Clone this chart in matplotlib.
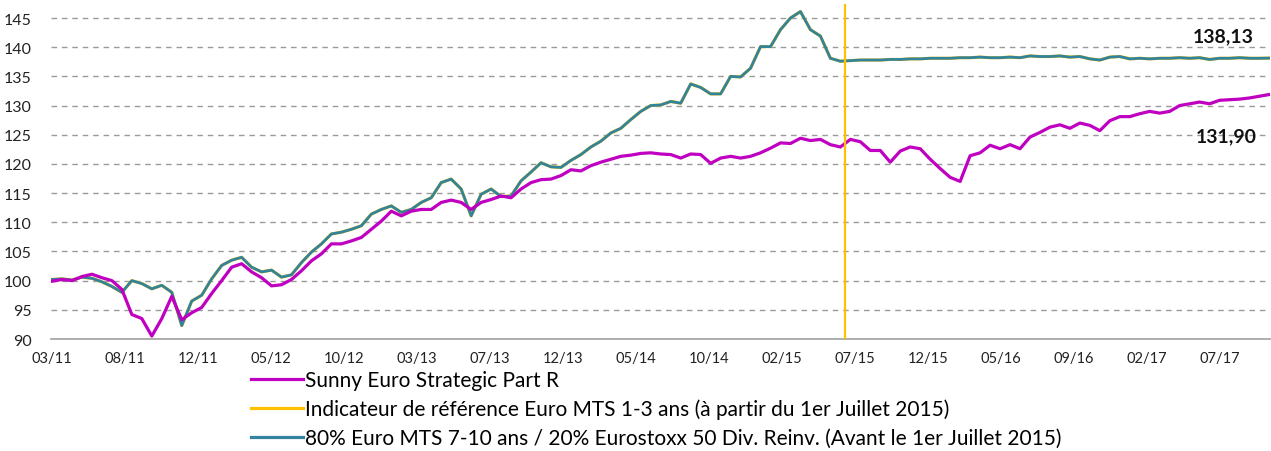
import matplotlib
matplotlib.use("Agg")
import matplotlib.pyplot as plt
from matplotlib.lines import Line2D
import pandas as pd

# Series values (base 100), sampled about every 20 days from March 2011 to October 2017
fund_values = [
    99.9, 100.2, 100.0, 100.7, 101.1, 100.5, 100.0, 98.5, 94.2, 93.5,
    90.5, 93.5, 97.3, 93.3, 94.5, 95.4, 97.8, 100.0, 102.3, 102.9,
    101.5, 100.5, 99.1, 99.3, 100.2, 101.7, 103.4, 104.6, 106.3, 106.3,
    106.8, 107.4, 108.8, 110.2, 111.9, 111.1, 111.9, 112.2, 112.2, 113.4,
    113.8, 113.4, 112.2, 113.4, 113.9, 114.5, 114.2, 115.7, 116.8, 117.3,
    117.4, 118.0, 119.0, 118.8, 119.7, 120.3, 120.8, 121.3, 121.5, 121.8,
    121.9, 121.7, 121.6, 121.0, 121.7, 121.6, 120.1, 121.0, 121.3, 121.0,
    121.3, 121.9, 122.7, 123.6, 123.5, 124.4, 124.0, 124.2, 123.3, 122.9,
    124.2, 123.8, 122.3, 122.3, 120.3, 122.2, 122.9, 122.6, 120.8, 119.2,
    117.7, 117.0, 121.4, 121.9, 123.2, 122.6, 123.3, 122.6, 124.6, 125.4,
    126.3, 126.7, 126.1, 127.0, 126.6, 125.7, 127.4, 128.1, 128.1, 128.6,
    129.0, 128.7, 129.0, 130.0, 130.3, 130.6, 130.3, 130.9, 131.0, 131.1,
    131.3, 131.6, 131.90,
]

benchmark_values = [
    100.2, 100.3, 100.1, 100.6, 100.4, 99.8, 99.0, 98.0, 100.0, 99.5,
    98.6, 99.2, 98.0, 92.3, 96.5, 97.5, 100.3, 102.6, 103.5, 104.0,
    102.3, 101.5, 101.8, 100.6, 101.0, 103.1, 104.9, 106.3, 108.0, 108.3,
    108.8, 109.4, 111.4, 112.2, 112.8, 111.7, 112.2, 113.4, 114.2, 116.8,
    117.4, 115.7, 111.1, 114.8, 115.7, 114.4, 114.5, 117.1, 118.6, 120.2,
    119.5, 119.4, 120.6, 121.6, 122.9, 123.9, 125.3, 126.1, 127.6, 129.0,
    130.0, 130.1, 130.7, 130.4, 133.7, 133.1, 132.0, 132.0, 135.0, 134.9,
    136.4, 140.1, 140.1, 143.0, 145.0, 146.1, 143.0, 141.9, 138.1, 137.6,
    137.7, 137.8, 137.8, 137.8, 137.9, 137.9, 138.0, 138.0, 138.1, 138.1,
    138.1, 138.2, 138.2, 138.3, 138.2, 138.2, 138.3, 138.2, 138.5, 138.4,
    138.4, 138.5, 138.3, 138.4, 138.0, 137.8, 138.3, 138.4, 138.0, 138.1,
    138.0, 138.1, 138.1, 138.2, 138.1, 138.2, 137.9, 138.1, 138.1, 138.2,
    138.1, 138.1, 138.13,
]

dates = pd.date_range("2011-03-10", "2017-10-21", periods=len(fund_values))

tick_dates = [
    "2011-03-10", "2011-08-01", "2011-12-24", "2012-05-17", "2012-10-09",
    "2013-03-03", "2013-07-26", "2013-12-18", "2014-05-12", "2014-10-04",
    "2015-02-26", "2015-07-21", "2015-12-13", "2016-05-06", "2016-09-28",
    "2017-02-19", "2017-07-14",
]
tick_labels = [
    "03/11", "08/11", "12/11", "05/12", "10/12", "03/13", "07/13", "12/13",
    "05/14", "10/14", "02/15", "07/15", "12/15", "05/16", "09/16", "02/17",
    "07/17",
]
y_ticks = [90, 95, 100, 105, 110, 115, 120, 125, 130, 135, 140, 145]
switch_date = "2015-07-01"

series_names = [
    "Sunny Euro Strategic Part R",
    "Indicateur de référence Euro MTS 1-3 ans (à partir du 1er Juillet 2015)",
    "80% Euro MTS 7-10 ans / 20% Eurostoxx 50 Div. Reinv. (Avant le 1er Juillet 2015)",
]

MAGENTA = "#C000C0"
GOLD = "#FFC000"
TEAL = "#31849B"
GRID = "#9A9A9A"

plt.rcParams["font.family"] = ["Lato", "DejaVu Sans"]

fig = plt.figure(figsize=(12.71, 4.52), dpi=100)
ax = fig.add_axes([51 / 1271, 1 - 340 / 452, 1219 / 1271, 335 / 452])

x = pd.to_datetime(dates)
ax.plot(x, benchmark_values, color=GOLD, lw=2.25, solid_joinstyle="round", zorder=3)
ax.plot(x, benchmark_values, color=TEAL, lw=2.0, solid_joinstyle="round", zorder=4)
ax.plot(x, fund_values, color=MAGENTA, lw=2.3, solid_joinstyle="round", zorder=5)
ax.axvline(pd.Timestamp(switch_date), color=GOLD, lw=1.6, zorder=6)

ax.set_ylim(90, 147.4)
ax.set_xlim(pd.Timestamp("2011-03-08"), pd.Timestamp("2017-10-22"))
ax.set_yticks(y_ticks)
ax.set_xticks([pd.Timestamp(d) for d in tick_dates])
ax.set_xticklabels(tick_labels)

for v in y_ticks[1:]:
    ax.axhline(v, color=GRID, lw=1.0, ls=(0, (4, 3.5)), zorder=1)

for s in ["top", "right", "left"]:
    ax.spines[s].set_visible(False)
ax.spines["bottom"].set_color("#A0A0A0")
ax.spines["bottom"].set_linewidth(1.2)
ax.tick_params(axis="both", length=0, labelsize=10.5, colors="#222222")
ax.tick_params(axis="x", pad=9)
ax.tick_params(axis="y", pad=14)
for lbl in ax.get_yticklabels():
    lbl.set_fontsize(11.5)

# End values
ax.annotate("138,13", xy=(x[-1], benchmark_values[-1]), xytext=(-33, 16),
            textcoords="offset points", ha="center", va="center",
            fontsize=14, fontweight="bold", color="#111111")
ax.annotate("131,90", xy=(x[-1], fund_values[-1]), xytext=(-31, -30),
            textcoords="offset points", ha="center", va="center",
            fontsize=14, fontweight="bold", color="#111111")

handles = [
    Line2D([], [], color=MAGENTA, lw=2.3),
    Line2D([], [], color=GOLD, lw=2.3),
    Line2D([], [], color=TEAL, lw=2.3),
]
fig.legend(handles, series_names, loc="upper left",
           bbox_to_anchor=(251 / 1271, 1 - 371 / 452), frameon=False,
           fontsize=15, handlelength=2.5, handletextpad=0.1,
           labelspacing=0.42, borderpad=0, borderaxespad=0)

fig.savefig("out.png", dpi=100)
